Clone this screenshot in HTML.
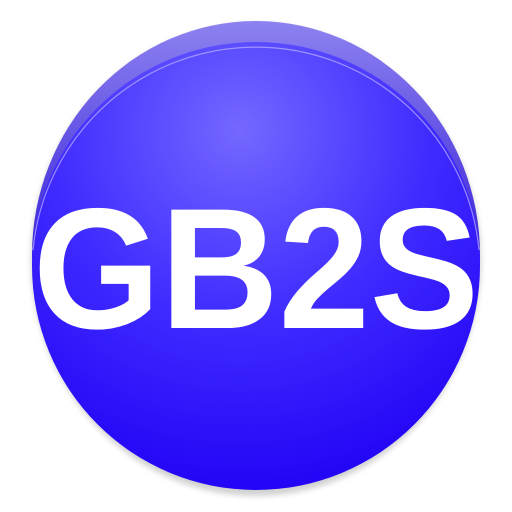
<!DOCTYPE html>
<html><head><meta charset="utf-8"><style>html,body{margin:0;padding:0;background:#fff;width:512px;height:512px;overflow:hidden}</style></head>
<body>
<svg width="512" height="512" viewBox="0 0 512 512">
<defs>
<radialGradient id="face" cx="240" cy="130" r="380" gradientUnits="userSpaceOnUse">
<stop offset="0" stop-color="#7468ff"/><stop offset="0.5" stop-color="#3f2bff"/><stop offset="1" stop-color="#2000f5"/>
</radialGradient>
<linearGradient id="rim" x1="0" y1="0" x2="0" y2="1">
<stop offset="0" stop-color="#8d82f0"/><stop offset="0.5" stop-color="#3a24d8"/><stop offset="1" stop-color="#2a10e0"/>
</linearGradient>
<filter id="sh" x="-10%" y="-10%" width="120%" height="120%"><feGaussianBlur stdDeviation="3"/></filter>
</defs>
<ellipse cx="256" cy="260" rx="225" ry="236" fill="#000" opacity="0.18" filter="url(#sh)"/>
<ellipse cx="256" cy="255" rx="224" ry="234" fill="url(#rim)"/>
<circle cx="256" cy="266" r="224" fill="url(#face)"/>
<path d="M33 250 A224 224 0 0 1 479 250" fill="none" stroke="#b0a8ff" stroke-width="1.2" opacity="0.8"/>
<text x="256" y="328" text-anchor="middle" font-family="Liberation Sans, sans-serif" font-weight="bold" font-size="172" fill="#fff" textLength="446" lengthAdjust="spacingAndGlyphs">GB2S</text>
</svg>
</body></html>
